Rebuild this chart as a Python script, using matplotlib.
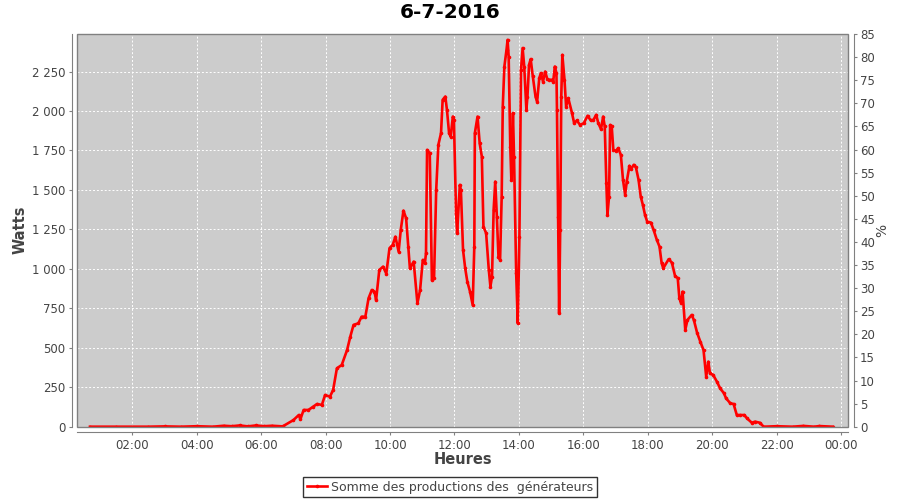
import numpy as np
import matplotlib
matplotlib.use("Agg")
import matplotlib.pyplot as plt
from matplotlib.ticker import FuncFormatter, MultipleLocator
from matplotlib.patches import Rectangle

# production totale (W), heure HH:MM
heures = ["00:41", "01:30", "02:30", "03:00", "03:30", "04:00", "04:30", "04:50",
          "05:05", "05:20", "05:35", "05:50", "06:05", "06:20", "06:40",
          "07:00", "07:10", "07:13", "07:19", "07:28", "07:37", "07:44", "07:53",
          "07:59", "08:08", "08:14", "08:21", "08:30", "08:40", "08:46", "08:52",
          "09:01", "09:07", "09:14", "09:20", "09:26", "09:31", "09:34", "09:40",
          "09:47", "09:53", "09:59", "10:05", "10:10", "10:16", "10:20", "10:25",
          "10:30", "10:34", "10:37", "10:44", "10:51", "10:56", "11:01", "11:05",
          "11:07", "11:09", "11:14", "11:18", "11:22", "11:26", "11:30", "11:35",
          "11:38", "11:43", "11:46", "11:50", "11:53", "11:57", "11:59", "12:03",
          "12:05", "12:10", "12:12", "12:16", "12:20", "12:24", "12:29", "12:34",
          "12:37", "12:38", "12:43", "12:47", "12:51", "12:54", "12:59", "13:04",
          "13:07", "13:10", "13:13", "13:16", "13:19", "13:22", "13:25", "13:28",
          "13:30", "13:33", "13:37", "13:39", "13:41", "13:44", "13:46", "13:49",
          "13:51", "13:55", "13:58", "14:01", "14:04", "14:07", "14:10", "14:14",
          "14:16", "14:19", "14:22", "14:26", "14:31", "14:34", "14:38", "14:41",
          "14:45", "14:49", "14:53", "14:57", "15:02", "15:04", "15:07", "15:10",
          "15:11", "15:13", "15:15", "15:17", "15:19", "15:21", "15:25", "15:28",
          "15:32", "15:39", "15:43", "15:48", "15:54", "16:01", "16:08", "16:14",
          "16:19", "16:24", "16:28", "16:33", "16:37", "16:40", "16:43", "16:45",
          "16:48", "16:50", "16:53", "16:56", "17:01", "17:05", "17:10", "17:14",
          "17:18", "17:21", "17:26", "17:29", "17:34", "17:38", "17:43", "17:47",
          "17:51", "17:55", "17:59", "18:06", "18:11", "18:17", "18:22", "18:26",
          "18:29", "18:39", "18:45", "18:51", "18:56", "18:59", "19:02", "19:05",
          "19:10", "19:14", "19:22", "19:26", "19:32", "19:38", "19:44", "19:49",
          "19:53", "19:56", "20:02", "20:09", "20:15", "20:22", "20:26", "20:34",
          "20:40", "20:46", "20:52", "21:00", "21:05", "21:14", "21:20", "21:29",
          "21:36", "22:00", "22:30", "22:50", "23:10", "23:20", "23:45"]
watts = [0, 0, 0, 2, 0, 3, 0, 6,
         3, 8, 2, 8, 3, 6, 2,
         42, 74, 47, 106, 106, 127, 144, 138,
         201, 190, 233, 370, 391, 486, 571, 645,
         655, 697, 697, 814, 866, 856, 803, 993,
         1014, 970, 1131, 1152, 1204, 1109, 1247, 1369,
         1320, 1141, 1004, 1046, 782, 866, 1057, 1036,
         1100, 1754, 1733, 930, 940, 1500, 1786, 1860,
         2071, 2092, 2008, 1860, 1838, 1965, 1944, 1353,
         1226, 1532, 1500, 1120, 1004, 919, 856, 771,
         1141, 1860, 1965, 1796, 1711, 1268, 1226, 993,
         888, 951, 1374, 1553, 1331, 1078, 1057, 1458,
         2028, 2282, 2388, 2451, 2345, 1775, 1564, 1987,
         1711, 972, 655, 1204, 2261, 2399, 2282, 2008,
         2092, 2293, 2329, 2219, 2092, 2060, 2208, 2240,
         2187, 2250, 2202, 2198, 2198, 2187, 2282, 2240,
         2008, 1331, 719, 1247, 2092, 2356, 2198, 2028,
         2082, 1987, 1923, 1940, 1912, 1923, 1970, 1940,
         1944, 1976, 1923, 1885, 1965, 1902, 1543, 1342,
         1458, 1912, 1902, 1754, 1748, 1765, 1722, 1564,
         1469, 1553, 1653, 1632, 1659, 1644, 1564, 1458,
         1405, 1342, 1300, 1293, 1247, 1184, 1141, 1036,
         1004, 1061, 1040, 955, 941, 814, 786, 856,
         613, 676, 708, 676, 596, 539, 486, 317,
         412, 338, 328, 285, 243, 212, 180, 148,
         144, 74, 74, 74, 53, 25, 32, 25,
         0, 3, 0, 5, 0, 4, 0]

x_ticks = [2, 4, 6, 8, 10, 12, 14, 16, 18, 20, 22, 24]
x_labels = ["02:00", "04:00", "06:00", "08:00", "10:00", "12:00",
            "14:00", "16:00", "18:00", "20:00", "22:00", "00:00"]

t = np.array([int(h[:2]) + int(h[3:]) / 60.0 for h in heures])
w = np.array(watts)

fig = plt.figure(figsize=(9, 5), dpi=100)
ax = fig.add_axes([0.0859, 0.1466, 0.8567, 0.7854])
ax.set_facecolor("#cccccc")

ax.plot(t, w, color="#ff0000", lw=1.9, marker="o", markersize=1.6,
        label="Somme des productions des  générateurs")

ax.set_xlim(0.29, 24.23)
ax.set_ylim(0, 2488)
ax.set_xticks(x_ticks)
ax.set_xticklabels(x_labels)
ax.yaxis.set_major_locator(MultipleLocator(250))
ax.yaxis.set_major_formatter(FuncFormatter(lambda v, p: f"{int(v):,}".replace(",", " ")))
ax.grid(True, color="white", ls=(0, (2, 2)), lw=0.7)
ax.set_axisbelow(True)

gris = "#808080"
for s in ["top", "right"]:
    ax.spines[s].set_visible(False)
for s in ["left", "bottom"]:
    ax.spines[s].set_position(("outward", 4))
    ax.spines[s].set_color(gris)
ax.tick_params(colors=gris, labelcolor="#444444", labelsize=8.5, length=2.5, pad=2)

ax2 = ax.twinx()
ax2.set_ylim(0, 85)
ax2.yaxis.set_major_locator(MultipleLocator(5))
for s in ["top", "left", "bottom"]:
    ax2.spines[s].set_visible(False)
ax2.spines["right"].set_position(("outward", 4))
ax2.spines["right"].set_color(gris)
ax2.tick_params(colors=gris, labelcolor="#444444", labelsize=8.5, length=2.5, pad=2)

ax.add_patch(Rectangle((0, 0), 1, 1, transform=ax.transAxes, fill=False,
                       edgecolor=gris, lw=1, clip_on=False, zorder=5))

fig.text(0.5, 0.975, "6-7-2016", ha="center", va="center", fontsize=14.5, fontweight="bold")
fig.text(0.022, 0.54, "Watts", rotation=90, ha="center", va="center",
         fontsize=10.5, fontweight="bold", color="#444444")
fig.text(0.514, 0.08, "Heures", ha="center", va="center",
         fontsize=10.5, fontweight="bold", color="#444444")
fig.text(0.98, 0.54, "%", rotation=90, ha="center", va="center",
         fontsize=10, color="#444444")

leg = fig.legend(loc="center", bbox_to_anchor=(0.5, 0.026), frameon=True, fancybox=False,
                 fontsize=9, handlelength=1.6, handletextpad=0.3, borderpad=0.3,
                 borderaxespad=0)
leg.get_frame().set_edgecolor("black")
leg.get_frame().set_linewidth(1)
for txt in leg.get_texts():
    txt.set_color("#444444")

fig.savefig("out.png", dpi=100)
